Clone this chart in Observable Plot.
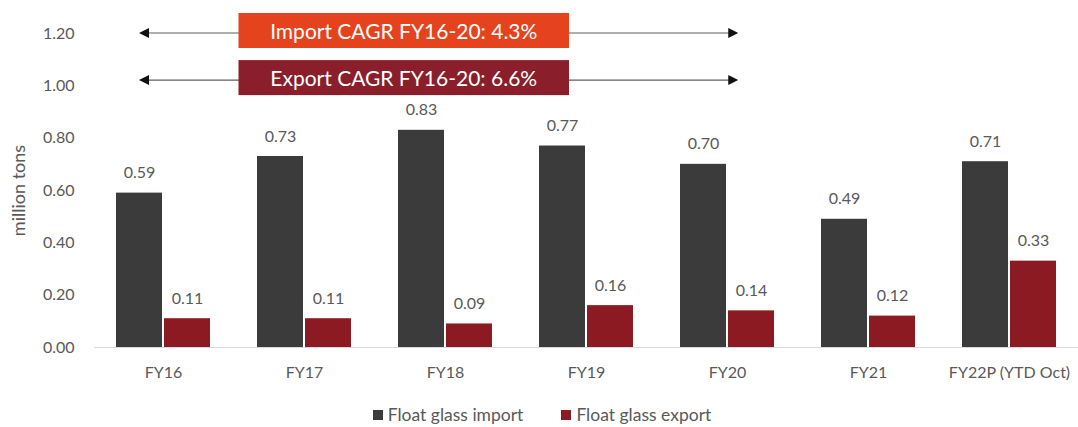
<!DOCTYPE html>
<html><head><meta charset="utf-8">
<script src="https://cdn.jsdelivr.net/npm/d3@7"></script>
<script src="https://cdn.jsdelivr.net/npm/@observablehq/plot@0.6"></script>
<style>
body{margin:0;background:#fff;font-family:Lato,"Open Sans",sans-serif;}
#chart svg{display:block}
#legend{display:flex;justify-content:center;align-items:center;gap:38px;height:25px;padding-top:12px;font-size:17.5px;color:#595959;padding-left:6px}
#legend span.it{display:flex;align-items:center}
#legend i{display:inline-block;width:10px;height:10px;margin-right:5px}
</style></head><body>
<div id="chart"></div>
<div id="legend"></div>
<script>
const categories = ["FY16","FY17","FY18","FY19","FY20","FY21","FY22P (YTD Oct)"];
const importValues = [0.59,0.73,0.83,0.77,0.70,0.49,0.71];
const exportValues = [0.11,0.11,0.09,0.16,0.14,0.12,0.33];
const yTicks = [0,0.2,0.4,0.6,0.8,1.0,1.2];
const seriesNames = ["Float glass import","Float glass export"];
const cagrLabels = ["Import CAGR FY16-20: 4.3%","Export CAGR FY16-20: 6.6%"];
const cagrLevels = [1.2, 1.02];
const cagrFrom = "FY16", cagrTo = "FY20";

const importColor = "#3b3b3b", exportColor = "#8b1a22";
const boxColors = ["#e5431d", "#8a1e2b"];
const textColor = "#595959";

const importData = categories.map((c,i)=>({cat:c, v:importValues[i]}));
const exportData = categories.map((c,i)=>({cat:c, v:exportValues[i]}));
const fmt = d3.format(".2f");

function cagrMark(index, scales) {
  const x = scales.x, y = scales.y;
  const bw = typeof x.bandwidth === "function" ? x.bandwidth() : x.bandwidth;
  const g = d3.create("svg:g");
  const xa = x(cagrFrom) + bw*0.25 - 0.5;
  const xb = x(cagrTo) + bw*0.62;
  const bx1 = (x(categories[0]) + bw + x(categories[1]))/2 + 5;
  const bx2 = x(categories[3]) + 30;
  cagrLevels.forEach((lv,i)=>{
    const yy = y(lv);
    g.append("line").attr("x1",xa+8).attr("x2",xb-8).attr("y1",yy).attr("y2",yy)
      .attr("stroke","#5f5f5f").attr("stroke-width",1.2);
    g.append("path").attr("d",`M${xa},${yy}L${xa+10},${yy-5}L${xa+10},${yy+5}Z`).attr("fill","#111");
    g.append("path").attr("d",`M${xb},${yy}L${xb-10},${yy-5}L${xb-10},${yy+5}Z`).attr("fill","#111");
    const cy = yy - 2.5;
    g.append("rect").attr("x",bx1).attr("width",bx2-bx1).attr("y",cy-17.5).attr("height",35)
      .attr("fill",boxColors[i]);
    g.append("text").attr("x",(bx1+bx2)/2).attr("y",cy).attr("text-anchor","middle")
      .attr("dominant-baseline","central").attr("fill","#fff").attr("font-size",21)
      .attr("font-family","Lato, sans-serif").text(cagrLabels[i]);
  });
  return g.node();
}

const chart = Plot.plot({
  width: 1078,
  height: 390,
  marginLeft: 94,
  marginRight: 0,
  marginTop: 33,
  marginBottom: 43,
  style: {fontFamily: "Lato, sans-serif", color: textColor, background: "#fff"},
  x: {domain: categories, paddingInner: 0.335, paddingOuter: 0.1486, label: null},
  y: {domain: [0, 1.2], label: null},
  marks: [
    Plot.ruleY([0], {stroke: "#d9d9d9"}),
    Plot.barY(importData, {x: "cat", y: "v", fill: importColor, insetRight: 48}),
    Plot.barY(exportData, {x: "cat", y: "v", fill: exportColor, insetLeft: 48}),
    Plot.text(importData, {x: "cat", y: "v", text: d=>fmt(d.v), dx: -24, dy: -20, fontSize: 16, fill: textColor}),
    Plot.text(exportData, {x: "cat", y: "v", text: d=>fmt(d.v), dx: 24, dy: -20, fontSize: 16, fill: textColor}),
    Plot.axisX({tickSize: 0, tickPadding: 19, fontSize: 16, label: null}),
    Plot.axisY({ticks: yTicks, tickFormat: fmt, tickSize: 0, tickPadding: 20, fontSize: 16, label: null}),
    Plot.axisY({ticks: [], tickSize: 0, fontSize: 18, label: "million tons", labelArrow: "none",
      labelAnchor: "center", labelOffset: 82}),
    cagrMark
  ]
});
document.getElementById("chart").appendChild(chart);

const legend = document.getElementById("legend");
[importColor, exportColor].forEach((c,i)=>{
  const s = document.createElement("span"); s.className="it";
  const sw = document.createElement("i"); sw.style.background = c;
  s.appendChild(sw); s.appendChild(document.createTextNode(seriesNames[i]));
  legend.appendChild(s);
});
</script>
</body></html>
